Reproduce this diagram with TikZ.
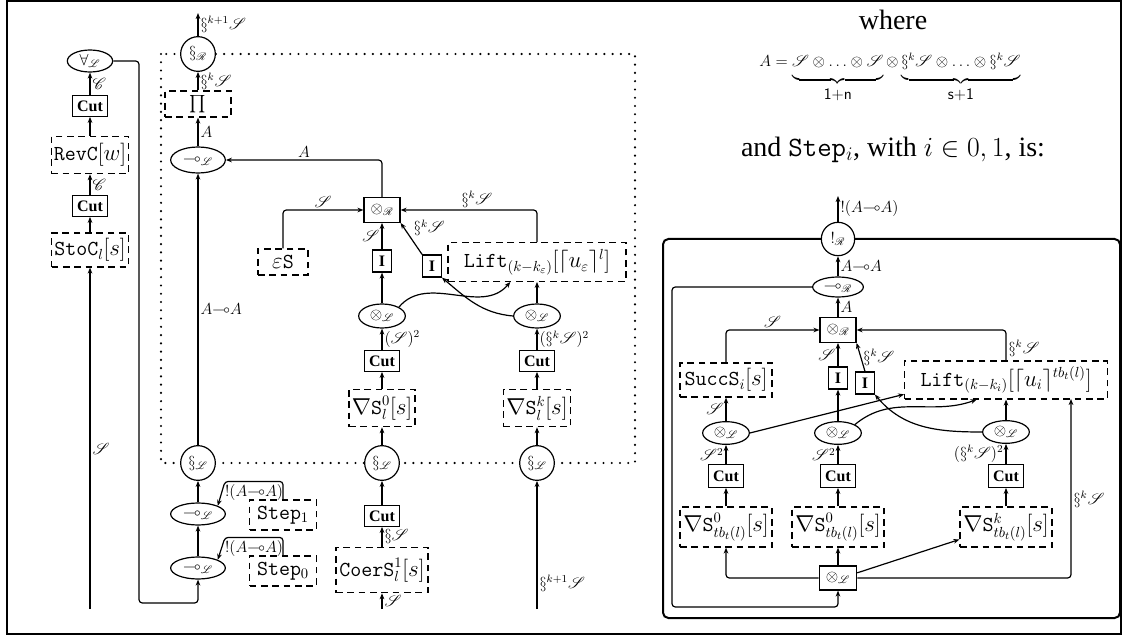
\documentclass[tikz,border=0pt]{standalone}
\usepackage{amssymb}
\usepackage{mathrsfs}
\usepackage{fontspec}
\setmainfont{Liberation Serif}
\usepackage{tikz}
\usetikzlibrary{shapes.geometric, arrows.meta, positioning}
\newcommand{\ScrS}{\mathscr{S}}
\newcommand{\ScrL}{\mathscr{L}}
\newcommand{\ScrR}{\mathscr{R}}
\newcommand{\ScrC}{\mathscr{C}}
\tikzset{
    myarrow/.style={-{Stealth[length=4.5pt,width=3.5pt]}, rounded corners=2.5pt},
    cutbox/.style={draw, rectangle, fill=white, font=\bfseries\fontsize{12}{14}\selectfont, inner sep=1pt, minimum width=26pt, minimum height=15.5pt},
    ibox/.style={draw, rectangle, fill=white, font=\bfseries\fontsize{12}{14}\selectfont, inner sep=1pt, minimum width=14pt, minimum height=16.5pt},
    opbox/.style={draw, rectangle, fill=white, font=\fontsize{12}{14}\selectfont, inner sep=1pt, minimum width=27pt, minimum height=18.5pt},
    tbox/.style={draw, dash pattern=on 5pt off 3.5pt, rectangle, fill=white, font=\fontsize{16}{18}\selectfont, inner sep=2pt},
    oval/.style={draw, ellipse, fill=white, font=\fontsize{12}{14}\selectfont, inner sep=0pt, minimum width=35pt, minimum height=18pt},
    ring/.style={draw, circle, fill=white, font=\fontsize{12}{14}\selectfont, inner sep=0pt, minimum size=26pt},
    lbl/.style={font=\fontsize{12}{14}\selectfont, inner sep=1.5pt}
}

\begin{document}
\begin{tikzpicture}[x=0.75pt, y=-0.75pt, line width=0.9pt]
    \useasboundingbox (0,0) rectangle (1122,638);
    \draw [line width=1.5pt] (7,1) rectangle (1121,634);

    % dotted frame of the main proof
    \draw [line width=1.8pt, dash pattern=on 0pt off 6.2pt, line cap=round] (161,54) rectangle (635,463);

    % left column
    \node (forallL) [oval, minimum width=34pt, minimum height=16.5pt] at (90,61) {$\forall_{\ScrL}$};
    \node (cutA) [cutbox] at (90,106) {Cut};
    \node (revc) [tbox, minimum width=55pt, minimum height=28pt] at (90,155) {\texttt{RevC}$[w]$};
    \node (cutB) [cutbox] at (90,206) {Cut};
    \node (stoc) [tbox, minimum width=55pt, minimum height=25.5pt] at (90,250) {\texttt{StoC}$_l[s]$};
    \coordinate (inS) at (90,609);

    % iteration column
    \coordinate (outS) at (198,13);
    \node (secR) [ring] at (198,54) {$\S_{\ScrR}$};
    \node (prodbox) [tbox, font=\fontsize{13}{15}\selectfont, minimum width=49.5pt, minimum height=19.5pt] at (198,104) {$\prod$};
    \node (lolliL) [oval, minimum width=41pt, minimum height=19.5pt] at (198,160) {$\multimap_{\ScrL}$};
    \node (secL1) [ring] at (198,463) {$\S_{\ScrL}$};
    \node (negU) [oval, minimum width=41pt, minimum height=16.5pt] at (198,514) {$\multimap_{\ScrL}$};
    \node (negD) [oval, minimum width=41pt, minimum height=16.5pt] at (198,568) {$\multimap_{\ScrL}$};
    \node (step1) [tbox, minimum width=50pt, minimum height=22.5pt] at (283,515) {\texttt{Step}$_1$};
    \node (step0) [tbox, minimum width=50pt, minimum height=22.5pt] at (283,571) {\texttt{Step}$_0$};

    % base case
    \node (eps) [tbox, minimum width=37.5pt, minimum height=19.5pt] at (283,262) {$\varepsilon$\texttt{S}};
    \node (otimesR) [opbox] at (382,210) {$\otimes_{\ScrR}$};
    \node (ibox1) [ibox] at (382,261) {I};
    \node (ibox2) [ibox] at (432,266) {I};
    \node (tensL1) [oval] at (382,316) {$\otimes_{\ScrL}$};
    \node (cutL1) [cutbox] at (382,361) {Cut};
    \node (nabla0) [tbox, minimum width=49.5pt, minimum height=28pt] at (382,408) {$\nabla$\texttt{S}$^0_l[s]$};
    \node (secL2) [ring] at (382,463) {$\S_{\ScrL}$};
    \node (cutL2) [cutbox] at (382,516) {Cut};
    \node (coers) [tbox, minimum width=69pt, minimum height=34pt] at (382,570) {\texttt{CoerS}$^1_l[s]$};
    \coordinate (inM) at (382,609);

    \node (lift) [tbox, minimum width=133.5pt, minimum height=29pt] at (537,262) {\texttt{Lift}$_{(k-k_\varepsilon)}[\lceil u_\varepsilon\rceil^l]$};
    \node (tensL2) [oval] at (537,316) {$\otimes_{\ScrL}$};
    \node (cutL3) [cutbox] at (537,361) {Cut};
    \node (nablak) [tbox, minimum width=50pt, minimum height=28pt] at (537,408) {$\nabla$\texttt{S}$^k_l[s]$};
    \node (secL3) [ring] at (537,463) {$\S_{\ScrL}$};
    \coordinate (inR) at (537,609);

    \draw [myarrow] (inS) -- node [lbl, right, pos=0.47] {$\ScrS$} (stoc);
    \draw [myarrow] (stoc) -- (cutB);
    \draw [myarrow] (cutB) -- node [lbl, right] {$\ScrC$} (revc);
    \draw [myarrow] (revc) -- (cutA);
    \draw [myarrow] (cutA) -- node [lbl, right] {$\ScrC$} (forallL);
    \draw [myarrow] (forallL.east) -| (139,603) -| (negD.south);

    \draw [myarrow] (secR) -- node [lbl, right] {$\S^{k+1}\ScrS$} (outS);
    \draw [myarrow] (prodbox) -- node [lbl, right] {$\S^k\ScrS$} (secR);
    \draw [myarrow] (lolliL) -- node [lbl, right] {$A$} (prodbox);
    \draw [myarrow] (secL1) -- node [lbl, right] {$A{\multimap}A$} (lolliL);
    \draw [myarrow] (negU) -- (secL1);
    \draw [myarrow] (negD) -- (negU);
    \draw [myarrow] (step1.north) |- node [lbl, below, pos=0.75] {$!(A{\multimap}A)$} ++(-58,-18) -- (negU.north east);
    \draw [myarrow] (step0.north) |- node [lbl, below, pos=0.75] {$!(A{\multimap}A)$} ++(-58,-18) -- (negD.north east);

    \draw [myarrow] (otimesR.north) |- node [lbl, above, pos=0.75] {$A$} (lolliL.east);
    \draw [myarrow] (eps.north) |- node [lbl, above, pos=0.75] {$\ScrS$} (otimesR.west);
    \draw [myarrow] (lift.north) |- node [lbl, above, pos=0.72] {$\S^k\ScrS$} (otimesR.east);
    \draw [myarrow] (ibox1) -- node [lbl, left] {$\ScrS$} (otimesR);
    \draw [myarrow] (ibox2.north west) -- node [lbl, above right] {$\S^k\ScrS$} (otimesR.south east);
    \draw [myarrow] (tensL1) -- (ibox1);
    \draw [myarrow] (tensL1.north east) to [out=50, in=-130] ([xshift=-20pt]lift.south);
    \draw [myarrow] (tensL2.west) to [out=175, in=-40] (ibox2.south east);
    \draw [myarrow] (tensL2) -- (lift);
    \draw [myarrow] (cutL1) -- node [lbl, right] {$(\ScrS)^2$} (tensL1);
    \draw [myarrow] (cutL3) -- node [lbl, right] {$(\S^k\ScrS)^2$} (tensL2);
    \draw [myarrow] (nabla0) -- (cutL1);
    \draw [myarrow] (nablak) -- (cutL3);
    \draw [myarrow] (secL2) -- (nabla0);
    \draw [myarrow] (secL3) -- (nablak);
    \draw [myarrow] (cutL2) -- (secL2);
    \draw [myarrow] (coers) -- node [lbl, right] {$\S\ScrS$} (cutL2);
    \draw [myarrow] (inM) -- node [lbl, right] {$\ScrS$} (coers);
    \draw [myarrow] (inR) -- node [lbl, right, pos=0.2] {$\S^{k+1}\ScrS$} (secL3);

    % explanation
    \node (where) [font=\fontsize{21}{24}\selectfont] at (893,20) {where};
    \node (defA) [font=\fontsize{12}{14}\selectfont, anchor=base] at (890,67) {$A=\underbrace{\ScrS\otimes\ldots\otimes\ScrS\rule[-6pt]{0pt}{6pt}}_{\raisebox{-4pt}{$\mathsf{1{+}n}$}}\otimes\underbrace{\S^k\ScrS\otimes\ldots\otimes\S^k\ScrS\rule[-6pt]{0pt}{6pt}}_{\raisebox{-4pt}{$\mathsf{s{+}1}$}}$};
    \node (steptxt) [font=\fontsize{21}{24}\selectfont] at (893,150) {and \texttt{Step}$_i$, with $i\in 0,1$, is:};

    % the step proof
    \draw [line width=1.5pt, rounded corners=4pt] (663,239) rectangle (1120,618);
    \coordinate (outB) at (838,196);
    \node (bang) [ring, minimum size=25pt] at (838,239) {$!_{\ScrR}$};
    \node (lolliR) [oval, minimum width=38pt, minimum height=15pt] at (838,287) {$\multimap_{\ScrR}$};
    \node (otimesR2) [opbox] at (838,330) {$\otimes_{\ScrR}$};
    \node (succ) [tbox, minimum width=69pt, minimum height=25.5pt] at (726,380) {\texttt{SuccS}$_i[s]$};
    \node (liftR) [tbox, minimum width=152pt, minimum height=28.5pt] at (1006,380) {\texttt{Lift}$_{(k-k_i)}[\lceil u_i\rceil^{tb_t(l)}]$};
    \node (iR1) [ibox] at (838,378) {I};
    \node (iR2) [ibox] at (865,383) {I};
    \node (tensA) [oval, minimum height=17pt] at (726,433) {$\otimes_{\ScrL}$};
    \node (tensB) [oval, minimum height=17pt] at (838,433) {$\otimes_{\ScrL}$};
    \node (tensC) [oval, minimum height=17pt] at (1006,432) {$\otimes_{\ScrL}$};
    \node (cutR1) [cutbox, minimum height=17pt] at (726,476) {Cut};
    \node (cutR2) [cutbox, minimum height=17pt] at (838,476) {Cut};
    \node (cutR3) [cutbox, minimum height=17pt] at (1006,476) {Cut};
    \node (nablaA) [tbox, minimum width=69pt, minimum height=30pt] at (726,527) {$\nabla$\texttt{S}$^0_{tb_t(l)}[s]$};
    \node (nablaB) [tbox, minimum width=69pt, minimum height=30pt] at (838,527) {$\nabla$\texttt{S}$^0_{tb_t(l)}[s]$};
    \node (nablaC) [tbox, minimum width=69pt, minimum height=30pt] at (1006,527) {$\nabla$\texttt{S}$^k_{tb_t(l)}[s]$};
    \node (tensBox) [opbox, minimum width=28pt, minimum height=18pt] at (838,578) {$\otimes_{\ScrL}$};
    \coordinate (liftin) at (1071,399);

    \draw [myarrow] (bang) -- node [lbl, right] {$!(A{\multimap}A)$} (outB);
    \draw [myarrow] (lolliR) -- node [lbl, right] {$A{\multimap}A$} (bang);
    \draw [myarrow] (otimesR2) -- node [lbl, right] {$A$} (lolliR);
    \draw [myarrow] (succ.north) |- node [lbl, above, pos=0.75] {$\ScrS$} (otimesR2.west);
    \draw [myarrow] (liftR.north) |- node [lbl, right, pos=0.2] {$\S^k\ScrS$} (otimesR2.east);
    \draw [myarrow] (iR1) -- node [lbl, left] {$\ScrS$} (otimesR2);
    \draw [myarrow] (iR2.north) -- node [lbl, right] {$\S^k\ScrS$} (otimesR2.south east);
    \draw [myarrow] (lolliR.west) -| (672,607) -| (tensBox.south);
    \draw [myarrow] (tensA) -- node [lbl, left] {$\ScrS$} (succ);
    \draw [myarrow] (tensA.east) -- (liftR.188);
    \draw [myarrow] (tensB) -- (iR1);
    \draw [myarrow] (tensB.north east) to [out=40, in=-160] ([xshift=-22pt]liftR.south);
    \draw [myarrow] (tensC.west) to [out=180, in=-50] (iR2.south east);
    \draw [myarrow] (tensC) -- (liftR);
    \draw [myarrow] (cutR1) -- node [lbl, left] {$\ScrS^2$} (tensA);
    \draw [myarrow] (cutR2) -- node [lbl, left] {$\ScrS^2$} (tensB);
    \draw [myarrow] (cutR3) -- node [lbl, left] {$(\S^k\ScrS)^2$} (tensC);
    \draw [myarrow] (nablaA) -- (cutR1);
    \draw [myarrow] (nablaB) -- (cutR2);
    \draw [myarrow] (nablaC) -- (cutR3);
    \draw [myarrow] (tensBox) -- (nablaB);
    \draw [myarrow] (tensBox.west) -| (nablaA.south);
    \draw [myarrow] (tensBox.15) -- (nablaC.195);
    \draw [myarrow] (tensBox.east) -| node [lbl, right, pos=0.72] {$\S^k\ScrS$} (liftin);
\end{tikzpicture}
\end{document}
